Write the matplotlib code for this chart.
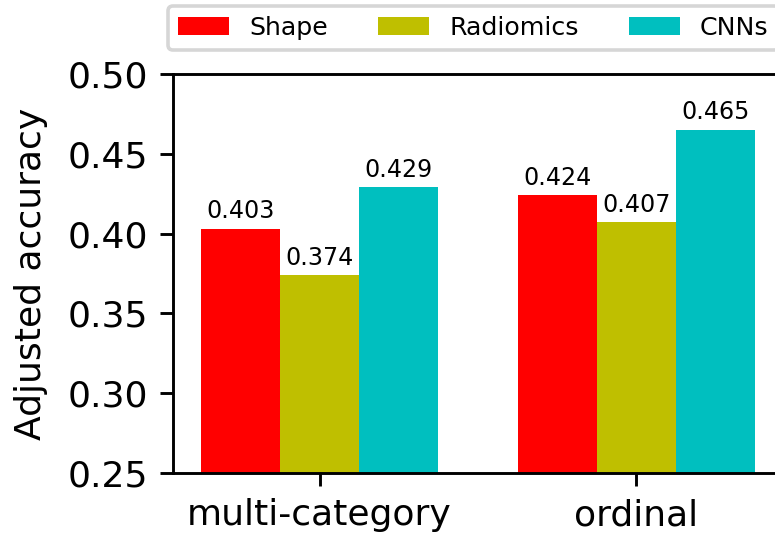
import matplotlib
matplotlib.use('Agg')
import matplotlib.pyplot as plt
import numpy as np

# data
categories = ['multi-category', 'ordinal']
shape = [0.403, 0.424]
radiomics = [0.374, 0.407]
cnns = [0.429, 0.465]

fig = plt.figure(figsize=(775/260, 535/260), dpi=260)
ax = fig.add_axes([0.2232, 0.1159, 0.787, 0.7458])

x = np.arange(len(categories))
w = 0.25
b1 = ax.bar(x - w, shape, w, color='r', label='Shape')
b2 = ax.bar(x, radiomics, w, color='y', label='Radiomics')
b3 = ax.bar(x + w, cnns, w, color='c', label='CNNs')

for bars in (b1, b2, b3):
    ax.bar_label(bars, fmt='%.3f', padding=1.5, fontsize=6.6)

ax.set_ylim(0.25, 0.50)
ax.set_yticks([0.25, 0.30, 0.35, 0.40, 0.45, 0.50])
ax.set_xticks(x)
ax.set_xticklabels(categories)
ax.set_ylabel('Adjusted accuracy', labelpad=5.4)

fig.legend(loc='lower left', ncol=3, fontsize=7, borderaxespad=0,
           bbox_to_anchor=(0.217, 0.9065), bbox_transform=fig.transFigure)

fig.savefig('out.png', dpi=260)
